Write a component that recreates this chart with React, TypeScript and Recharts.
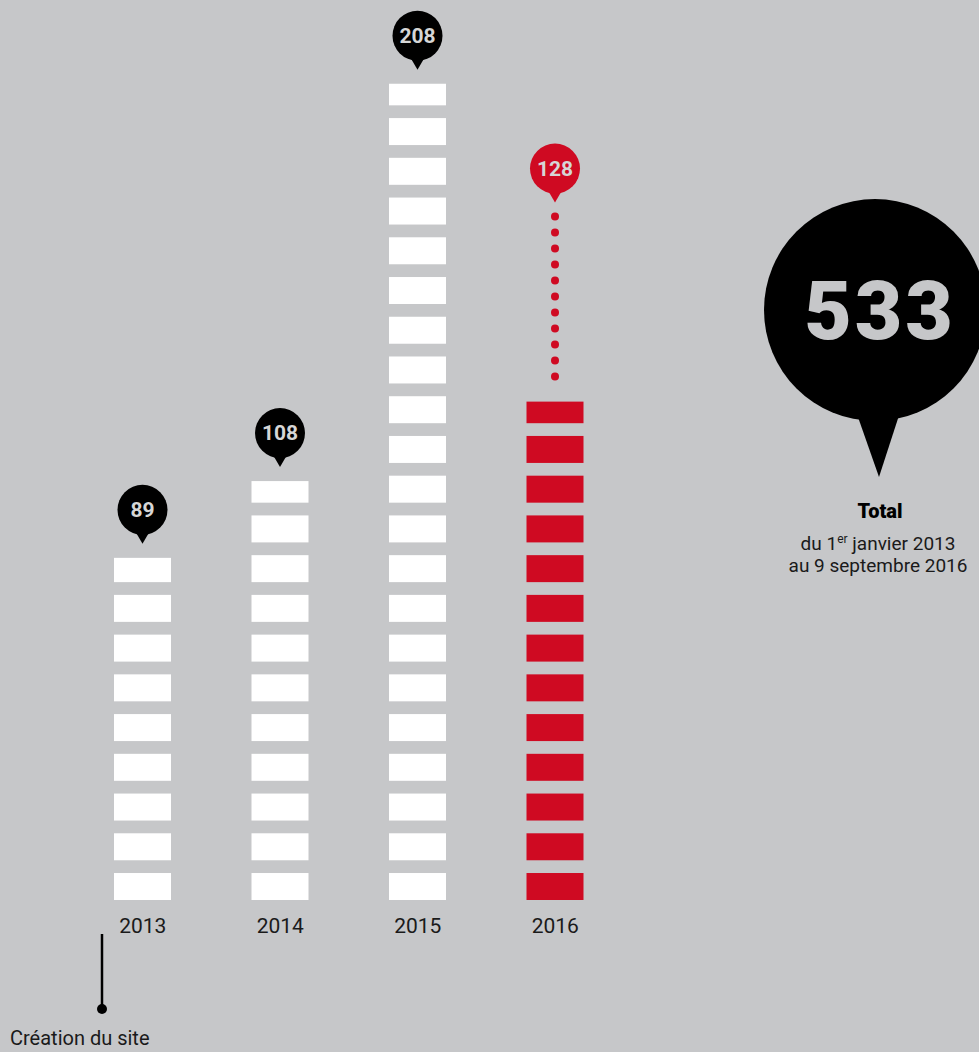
import React from 'react';
import { Bar, BarChart, XAxis, YAxis } from 'recharts';

// values
const years: string[] = ['2013', '2014', '2015', '2016'];
const counts: number[] = [89, 108, 208, 128];
// 2016 dotted projection (top of the dotted line)
const projections: (number | null)[] = [null, null, null, 172];
const highlighted: boolean[] = [false, false, false, true];

const STEP = 10; // one block = 10 units
const BG = '#c6c7c9';
const RED = '#cf0a22';
const FONT = 'Roboto, "Noto Sans", sans-serif';

const data = years.map((year, i) => ({
  year,
  value: counts[i],
  projection: projections[i],
  red: highlighted[i],
}));

const total = counts.reduce((a, b) => a + b, 0);

const BlockBar = (props: any) => {
  const { x, y, width, height, payload } = props;
  const value: number = payload.value;
  if (!value || !height) return null;
  const ppu = height / value;
  const pitch = STEP * ppu;
  const blockH = pitch * 0.679;
  const base = y + height;
  const full = Math.floor(value / STEP);
  const rest = value / STEP - full;
  const color = payload.red ? RED : '#ffffff';
  const pin = payload.red ? RED : '#000000';

  const rects: React.ReactNode[] = [];
  for (let i = 0; i < full; i++) {
    rects.push(
      <rect key={'b' + i} x={x} y={base - i * pitch - blockH} width={width} height={blockH} fill={color} />
    );
  }
  let top = base - (full - 1) * pitch - blockH;
  if (rest > 0) {
    const h = rest * blockH;
    top = base - full * pitch - h;
    rects.push(<rect key="part" x={x} y={top} width={width} height={h} fill={color} />);
  }

  const cx = x + width / 2;
  let anchor = top;
  const dots: React.ReactNode[] = [];
  if (payload.projection) {
    const projTop = base - payload.projection * ppu;
    for (let dy = projTop, k = 0; dy <= top - 12; dy += 16, k++) {
      dots.push(<circle key={'d' + k} cx={cx} cy={dy} r={4} fill={RED} />);
    }
    anchor = projTop;
  }

  const cy = anchor - 48;
  return (
    <g>
      {rects}
      {dots}
      <path d={`M${cx - 7},${cy + 22} L${cx + 7},${cy + 22} L${cx},${cy + 34} Z`} fill={pin} />
      <circle cx={cx} cy={cy} r={25} fill={pin} />
      <text
        x={cx}
        y={cy + 7}
        textAnchor="middle"
        fill="#d6d6d6"
        fontFamily={FONT}
        fontWeight={700}
        fontSize={21}
      >
        {value}
      </text>
    </g>
  );
};

export default function App() {
  return (
    <div
      style={{
        position: 'absolute',
        left: 0,
        top: 0,
        width: 979,
        height: 1052,
        background: BG,
        overflow: 'hidden',
        fontFamily: FONT,
      }}
    >
      <BarChart
        width={979}
        height={1052}
        data={data}
        margin={{ top: 6, right: 355, left: 74, bottom: 112 }}
      >
        <XAxis
          dataKey="year"
          height={40}
          axisLine={false}
          tickLine={false}
          tickSize={0}
          tickMargin={18}
          tick={{ fill: '#1a1a1a', fontSize: 21, fontFamily: FONT }}
        />
        <YAxis hide domain={[0, 225]} />
        <Bar dataKey="value" barSize={57} shape={BlockBar} isAnimationActive={false} />
      </BarChart>

      <svg
        width={979}
        height={1052}
        style={{ position: 'absolute', left: 0, top: 0, pointerEvents: 'none' }}
      >
        {/* total pin */}
        <path d="M852,400 L904,400 L879,477 Z" fill="#000" />
        <circle cx={875} cy={310} r={111} fill="#000" />
        <text
          x={880}
          y={339}
          textAnchor="middle"
          fill={BG}
          fontFamily={FONT}
          fontWeight={900}
          fontSize={82}
          letterSpacing={3}
        >
          {total}
        </text>
        <text x={880} y={518} textAnchor="middle" fill="#000" fontFamily={FONT} fontWeight={900} fontSize={20}>
          Total
        </text>
        <text x={878} y={550} textAnchor="middle" fill="#1a1a1a" fontFamily={FONT} fontSize={19}>
          du 1<tspan fontSize={12} dy={-7}>er</tspan>
          <tspan dy={7}> janvier 2013</tspan>
        </text>
        <text x={878} y={572} textAnchor="middle" fill="#1a1a1a" fontFamily={FONT} fontSize={19}>
          au 9 septembre 2016
        </text>

        {/* site creation marker */}
        <line x1={102} y1={934} x2={102} y2={1009} stroke="#000" strokeWidth={2.5} />
        <circle cx={102} cy={1009} r={5} fill="#000" />
        <text x={10} y={1045} fill="#1a1a1a" fontFamily={FONT} fontSize={20}>
          Création du site
        </text>
      </svg>
    </div>
  );
}
